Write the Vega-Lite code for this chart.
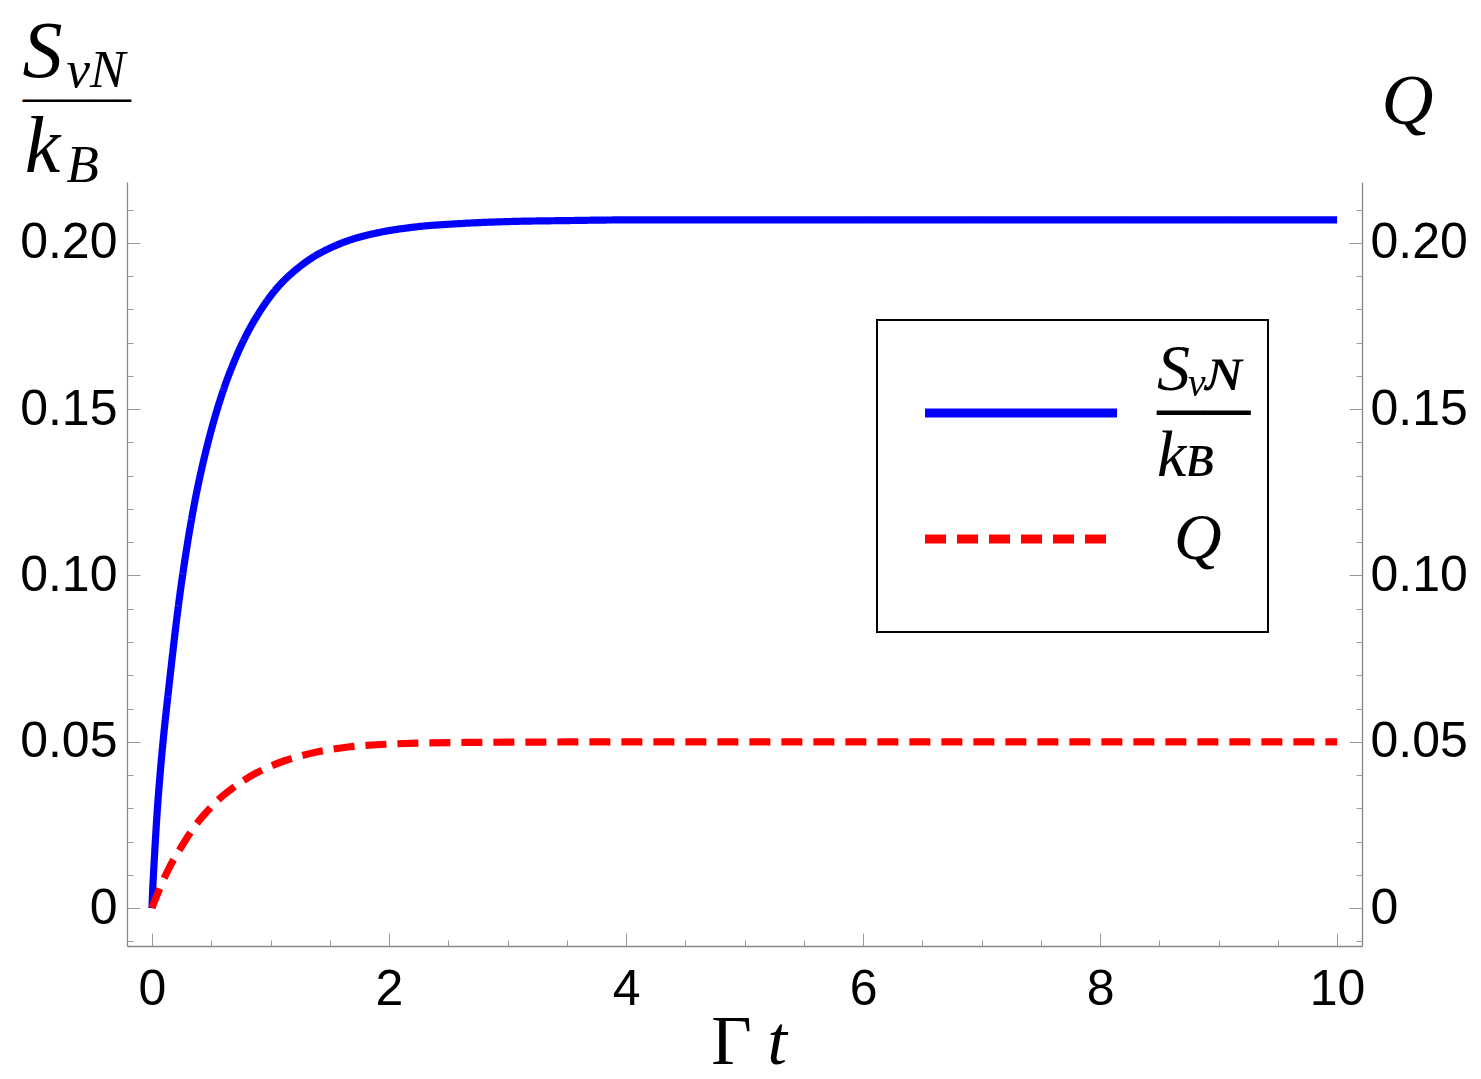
{
  "$schema": "https://vega.github.io/schema/vega-lite/v6.json",
  "width": 1235,
  "height": 764,
  "autosize": {"type": "none"},
  "padding": {"left": 127, "top": 182, "right": 119, "bottom": 133},
  "background": "white",
  "config": {"view": {"stroke": null}},
  "data": {"values": [
    {"t": 0, "v": 0, "series": "S_vN/k_B"},
    {"t": 0.005, "v": 0.005, "series": "S_vN/k_B"},
    {"t": 0.01, "v": 0.0085, "series": "S_vN/k_B"},
    {"t": 0.02, "v": 0.015, "series": "S_vN/k_B"},
    {"t": 0.04, "v": 0.027, "series": "S_vN/k_B"},
    {"t": 0.07, "v": 0.041, "series": "S_vN/k_B"},
    {"t": 0.1, "v": 0.0525, "series": "S_vN/k_B"},
    {"t": 0.135, "v": 0.0641, "series": "S_vN/k_B"},
    {"t": 0.17, "v": 0.0752, "series": "S_vN/k_B"},
    {"t": 0.206, "v": 0.0862, "series": "S_vN/k_B"},
    {"t": 0.24, "v": 0.0955, "series": "S_vN/k_B"},
    {"t": 0.3, "v": 0.1098, "series": "S_vN/k_B"},
    {"t": 0.36, "v": 0.122, "series": "S_vN/k_B"},
    {"t": 0.42, "v": 0.1322, "series": "S_vN/k_B"},
    {"t": 0.5, "v": 0.1437, "series": "S_vN/k_B"},
    {"t": 0.6, "v": 0.1555, "series": "S_vN/k_B"},
    {"t": 0.7, "v": 0.1649, "series": "S_vN/k_B"},
    {"t": 0.8, "v": 0.1726, "series": "S_vN/k_B"},
    {"t": 0.9, "v": 0.1788, "series": "S_vN/k_B"},
    {"t": 1.0, "v": 0.184, "series": "S_vN/k_B"},
    {"t": 1.1, "v": 0.1882, "series": "S_vN/k_B"},
    {"t": 1.2, "v": 0.1915, "series": "S_vN/k_B"},
    {"t": 1.35, "v": 0.1955, "series": "S_vN/k_B"},
    {"t": 1.5, "v": 0.1984, "series": "S_vN/k_B"},
    {"t": 1.7, "v": 0.2012, "series": "S_vN/k_B"},
    {"t": 1.9, "v": 0.203, "series": "S_vN/k_B"},
    {"t": 2.2, "v": 0.2047, "series": "S_vN/k_B"},
    {"t": 2.6, "v": 0.2058, "series": "S_vN/k_B"},
    {"t": 3.0, "v": 0.2064, "series": "S_vN/k_B"},
    {"t": 3.5, "v": 0.2067, "series": "S_vN/k_B"},
    {"t": 4, "v": 0.2069, "series": "S_vN/k_B"},
    {"t": 5, "v": 0.2069, "series": "S_vN/k_B"},
    {"t": 6, "v": 0.2069, "series": "S_vN/k_B"},
    {"t": 7, "v": 0.2069, "series": "S_vN/k_B"},
    {"t": 8, "v": 0.2069, "series": "S_vN/k_B"},
    {"t": 9, "v": 0.2069, "series": "S_vN/k_B"},
    {"t": 10, "v": 0.2069, "series": "S_vN/k_B"},
    {"t": 0, "v": 0, "series": "Q"},
    {"t": 0.023, "v": 0.0022, "series": "Q"},
    {"t": 0.06, "v": 0.0054, "series": "Q"},
    {"t": 0.093, "v": 0.0082, "series": "Q"},
    {"t": 0.149, "v": 0.0124, "series": "Q"},
    {"t": 0.234, "v": 0.0176, "series": "Q"},
    {"t": 0.32, "v": 0.0225, "series": "Q"},
    {"t": 0.4, "v": 0.0264, "series": "Q"},
    {"t": 0.49, "v": 0.03, "series": "Q"},
    {"t": 0.57, "v": 0.0329, "series": "Q"},
    {"t": 0.67, "v": 0.0358, "series": "Q"},
    {"t": 0.77, "v": 0.0383, "series": "Q"},
    {"t": 0.88, "v": 0.0406, "series": "Q"},
    {"t": 0.99, "v": 0.0425, "series": "Q"},
    {"t": 1.12, "v": 0.0443, "series": "Q"},
    {"t": 1.25, "v": 0.0457, "series": "Q"},
    {"t": 1.39, "v": 0.0469, "series": "Q"},
    {"t": 1.53, "v": 0.0478, "series": "Q"},
    {"t": 1.67, "v": 0.0485, "series": "Q"},
    {"t": 1.81, "v": 0.0489, "series": "Q"},
    {"t": 2.0, "v": 0.0493, "series": "Q"},
    {"t": 2.23, "v": 0.0496, "series": "Q"},
    {"t": 2.65, "v": 0.0498, "series": "Q"},
    {"t": 3.2, "v": 0.0499, "series": "Q"},
    {"t": 4, "v": 0.05, "series": "Q"},
    {"t": 5, "v": 0.05, "series": "Q"},
    {"t": 6, "v": 0.05, "series": "Q"},
    {"t": 7, "v": 0.05, "series": "Q"},
    {"t": 8, "v": 0.05, "series": "Q"},
    {"t": 9, "v": 0.05, "series": "Q"},
    {"t": 10, "v": 0.05, "series": "Q"}
  ]},
  "layer": [
    {
      "mark": {"type": "line", "strokeWidth": 7.2, "interpolate": "monotone"},
      "encoding": {
        "x": {"field": "t", "type": "quantitative", "scale": {"domain": [-0.211, 10.21], "nice": false, "zero": false},
          "axis": {"orient": "bottom", "values": [0, 2, 4, 6, 8, 10], "labelFont": "Liberation Sans", "labelFontSize": 50, "labelColor": "black", "labelPadding": 31, "tickSize": -13, "tickColor": "#999", "tickWidth": 1, "domainColor": "#888", "domainWidth": 1.3, "grid": false,
            "title": "Γ", "titleFont": "Liberation Serif", "titleFontWeight": "normal", "titleFontSize": 70, "titleColor": "black", "titleAlign": "center", "titleBaseline": "alphabetic", "titleX": 604, "titleY": 117}},
        "y": {"field": "v", "type": "quantitative", "scale": {"domain": [-0.0114, 0.2183], "nice": false, "zero": false},
          "axis": {"orient": "left", "values": [0, 0.05, 0.1, 0.15, 0.2], "labelExpr": "datum.value == 0 ? '0' : format(datum.value, '.2f')", "labelFont": "Liberation Sans", "labelFontSize": 50, "labelColor": "black", "labelPadding": 23, "tickSize": -13, "tickColor": "#999", "tickWidth": 1, "domainColor": "#888", "domainWidth": 1.3, "grid": false,
            "title": ["S", "k"], "titleFont": "Liberation Serif", "titleFontStyle": "italic", "titleFontWeight": "normal", "titleFontSize": 80, "titleLineHeight": 95, "titleColor": "black", "titleAngle": 0, "titleAlign": "center", "titleBaseline": "alphabetic", "titleX": -85, "titleY": -106}},
        "color": {"field": "series", "type": "nominal", "scale": {"domain": ["S_vN/k_B", "Q"], "range": ["#0000ff", "#ff0000"]},
          "legend": {"orient": "none", "legendX": 750, "legendY": 138, "title": "\u00a0", "titleFontSize": 1, "titlePadding": 42, "symbolType": "M-4,0H4", "symbolSize": 2304, "symbolStrokeWidth": 9, "symbolOffset": 94, "labelOffset": 103, "labelFont": "Liberation Serif", "labelFontStyle": "italic", "labelFontSize": 66, "labelColor": "black", "labelLimit": 0, "padding": 17, "rowPadding": 17, "strokeColor": "black", "fillColor": "white",
            "labelExpr": "datum.value == 'Q' ? ['\u00a0Q', '\u00a0'] : ['Sᵥɴ', '──\u00a0', 'kʙ']",
            "encode": {"labels": {"update": {"lineHeight": {"value": 43}, "dy": {"signal": "datum.value == 'Q' ? 0 : -43"}, "dx": {"signal": "datum.value == 'Q' ? 17 : 0"}}}, "legend": {"update": {"strokeWidth": {"value": 2}}}}}},
        "strokeDash": {"field": "series", "type": "nominal", "scale": {"domain": ["S_vN/k_B", "Q"], "range": [[1, 0], [21, 11]]},
          "legend": {"orient": "none", "legendX": 750, "legendY": 138, "title": "\u00a0", "titleFontSize": 1, "titlePadding": 42, "symbolType": "M-4,0H4", "symbolSize": 2304, "symbolStrokeWidth": 9, "symbolOffset": 94, "labelOffset": 103, "labelFont": "Liberation Serif", "labelFontStyle": "italic", "labelFontSize": 66, "labelColor": "black", "labelLimit": 0, "padding": 17, "rowPadding": 17, "strokeColor": "black", "fillColor": "white",
            "labelExpr": "datum.value == 'Q' ? ['\u00a0Q', '\u00a0'] : ['Sᵥɴ', '──\u00a0', 'kʙ']",
            "encode": {"labels": {"update": {"lineHeight": {"value": 43}, "dy": {"signal": "datum.value == 'Q' ? 0 : -43"}, "dx": {"signal": "datum.value == 'Q' ? 17 : 0"}}}, "legend": {"update": {"strokeWidth": {"value": 2}}}}}}
      }
    },
    {
      "mark": {"type": "line", "opacity": 0},
      "encoding": {
        "x": {"field": "t", "type": "quantitative", "scale": {"domain": [-0.211, 10.21], "nice": false, "zero": false}, "axis": null},
        "y": {"field": "v", "type": "quantitative", "scale": {"domain": [-0.0114, 0.2183], "nice": false, "zero": false},
          "axis": {"orient": "right", "values": [0, 0.05, 0.1, 0.15, 0.2], "labelExpr": "datum.value == 0 ? '0' : format(datum.value, '.2f')", "labelFont": "Liberation Sans", "labelFontSize": 50, "labelColor": "black", "labelPadding": 21, "tickSize": -13, "tickColor": "#999", "tickWidth": 1, "domainColor": "#888", "domainWidth": 1.3, "grid": false,
            "title": "Q", "titleFont": "Liberation Serif", "titleFontStyle": "italic", "titleFontWeight": "normal", "titleFontSize": 72, "titleColor": "black", "titleAngle": 0, "titleAlign": "center", "titleBaseline": "alphabetic", "titleX": 45, "titleY": -59}},
        "detail": {"field": "series", "type": "nominal"}
      }
    },
    {
      "mark": {"type": "line", "opacity": 0},
      "encoding": {
        "x": {"field": "t", "type": "quantitative", "scale": {"domain": [-0.211, 10.21], "nice": false, "zero": false},
          "axis": {"orient": "bottom", "values": [0.5, 1, 1.5, 2.5, 3, 3.5, 4.5, 5, 5.5, 6.5, 7, 7.5, 8.5, 9, 9.5], "labels": false, "domain": false, "grid": false, "tickSize": -6, "tickColor": "#999", "tickWidth": 1,
            "title": "t", "titleFont": "Liberation Serif", "titleFontStyle": "italic", "titleFontWeight": "normal", "titleFontSize": 70, "titleColor": "black", "titleAlign": "left", "titleBaseline": "alphabetic", "titleX": 640, "titleY": 117}},
        "y": {"field": "v", "type": "quantitative", "scale": {"domain": [-0.0114, 0.2183], "nice": false, "zero": false},
          "axis": {"orient": "left", "values": [-0.01, 0.01, 0.02, 0.03, 0.04, 0.06, 0.07, 0.08, 0.09, 0.11, 0.12, 0.13, 0.14, 0.16, 0.17, 0.18, 0.19, 0.21], "labels": false, "domain": false, "grid": false, "tickSize": -6, "tickColor": "#999", "tickWidth": 1,
            "title": ["vN", "B"], "titleFont": "Liberation Serif", "titleFontStyle": "italic", "titleFontWeight": "normal", "titleFontSize": 53, "titleLineHeight": 95, "titleColor": "black", "titleAngle": 0, "titleAlign": "left", "titleBaseline": "alphabetic", "titleX": -61, "titleY": -96}},
        "detail": {"field": "series", "type": "nominal"}
      }
    },
    {
      "mark": {"type": "line", "opacity": 0},
      "encoding": {
        "x": {"field": "t", "type": "quantitative", "scale": {"domain": [-0.211, 10.21], "nice": false, "zero": false}, "axis": null},
        "y": {"field": "v", "type": "quantitative", "scale": {"domain": [-0.0114, 0.2183], "nice": false, "zero": false},
          "axis": {"orient": "right", "values": [-0.01, 0.01, 0.02, 0.03, 0.04, 0.06, 0.07, 0.08, 0.09, 0.11, 0.12, 0.13, 0.14, 0.16, 0.17, 0.18, 0.19, 0.21], "labels": false, "domain": false, "grid": false, "tickSize": -6, "tickColor": "#999", "tickWidth": 1,
            "title": "──────", "titleFont": "DejaVu Sans Mono", "titleFontWeight": "normal", "titleFontSize": 30, "titleColor": "black", "titleAngle": 0, "titleAlign": "left", "titleBaseline": "alphabetic", "titleX": -1340, "titleY": -72}},
        "detail": {"field": "series", "type": "nominal"}
      }
    }
  ],
  "resolve": {"axis": {"x": "independent", "y": "independent"}, "scale": {"x": "shared", "y": "shared"}}
}
